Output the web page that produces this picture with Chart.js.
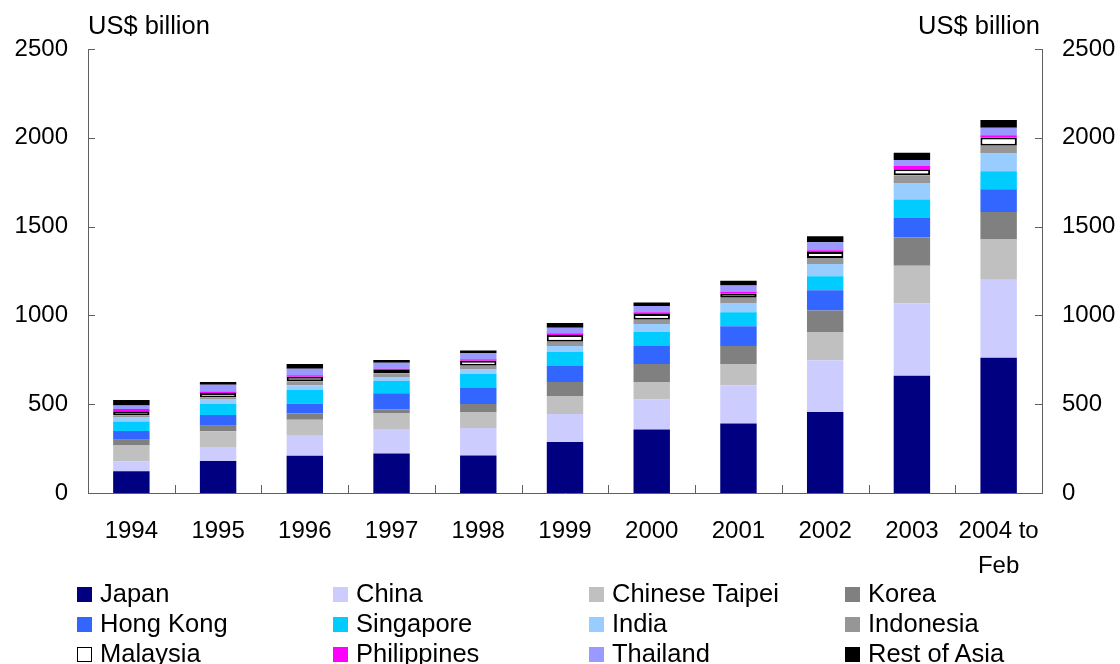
<!DOCTYPE html>
<html>
<head>
<meta charset="utf-8">
<script src="https://cdn.jsdelivr.net/npm/chart.js@4.4.1/dist/chart.umd.min.js"></script>
<style>
  body { margin: 0; background: #fff; font-family: "Liberation Sans", Arial, sans-serif; }
  #wrap { position: relative; width: 1120px; height: 664px; overflow: hidden; }
  #chart { position: absolute; left: 0; top: 0; }
  .unit { position: absolute; top: 10px; font-size: 25.5px; color: #000; line-height: 30px; }
  #legend { position: absolute; left: 0; top: 0; width: 1120px; }
  .item { position: absolute; font-size: 25.5px; line-height: 30px; white-space: nowrap; color: #000; }
  .box { position: absolute; left: 0; top: 9px; width: 15px; height: 15px; box-sizing: border-box; }
  .item span { position: absolute; left: 23px; top: 0; }
</style>
</head>
<body>
<div id="wrap">
  <canvas id="chart" width="1120" height="664"></canvas>
  <div class="unit" style="left:88px">US$ billion</div>
  <div class="unit" style="right:80px">US$ billion</div>
  <div id="legend"></div>
</div>
<script>
const years = ["1994", "1995", "1996", "1997", "1998", "1999", "2000", "2001", "2002", "2003", ["2004 to", "Feb"]];
const yTicks = [0, 500, 1000, 1500, 2000, 2500];

const japan = [122, 180, 210, 223, 211, 287, 357, 391, 456, 660, 762];
const china = [56, 79, 113, 137, 155, 158, 169, 216, 291, 408, 439];
const taipei = [90, 88, 90, 88, 90, 101, 99, 120, 159, 212, 227];
const korea = [32, 32, 35, 23, 45, 79, 101, 101, 122, 158, 154];
const hongKong = [49, 60, 55, 90, 90, 90, 101, 111, 113, 113, 128];
const singapore = [53, 64, 79, 70, 81, 81, 79, 79, 79, 101, 101];
const india = [26, 26, 24, 20, 24, 32, 45, 49, 69, 90, 101];
const indonesia = [9, 9, 23, 23, 21, 23, 25, 32, 34, 47, 43];
const malaysia = [23, 25, 25, 19, 27, 38, 32, 25, 34, 34, 47];
const philippines = [13, 9, 9, 7, 9, 10, 10, 9, 10, 20, 12];
const thailand = [19, 38, 36, 34, 35, 32, 35, 36, 45, 32, 43];
const restOfAsia = [32, 15, 28, 15, 15, 26, 19, 26, 34, 41, 43];

const SERIES = [
  { label: "Japan", data: japan, color: "#000080" },
  { label: "China", data: china, color: "#CCCCFF" },
  { label: "Chinese Taipei", data: taipei, color: "#C0C0C0" },
  { label: "Korea", data: korea, color: "#808080" },
  { label: "Hong Kong", data: hongKong, color: "#3366FF" },
  { label: "Singapore", data: singapore, color: "#00CCFF" },
  { label: "India", data: india, color: "#99CCFF" },
  { label: "Indonesia", data: indonesia, color: "#969696" },
  { label: "Malaysia", data: malaysia, color: "#FFFFFF", border: "#000000" },
  { label: "Philippines", data: philippines, color: "#FF00FF" },
  { label: "Thailand", data: thailand, color: "#9999FF" },
  { label: "Rest of Asia", data: restOfAsia, color: "#000000" }
];

const FONT = { family: "'Liberation Sans', Arial, sans-serif", size: 24 };
const AXIS = "#606060";

// small inward tick marks like the original
const innerTicks = {
  id: "innerTicks",
  afterDraw(chart) {
    const { ctx, chartArea: a, scales } = chart;
    ctx.save();
    ctx.strokeStyle = AXIS;
    ctx.lineWidth = 1;
    ctx.beginPath();
    yTicks.forEach((v) => {
      const y = Math.round(scales.y.getPixelForValue(v)) + 0.5;
      ctx.moveTo(a.left, y); ctx.lineTo(a.left + 7, y);
      ctx.moveTo(a.right, y); ctx.lineTo(a.right - 7, y);
    });
    for (let i = 0; i < years.length - 1; i++) {
      const x = Math.round((scales.x.getPixelForValue(i) + scales.x.getPixelForValue(i + 1)) / 2) + 0.5;
      ctx.moveTo(x, a.bottom); ctx.lineTo(x, a.bottom - 8);
    }
    ctx.stroke();
    ctx.restore();
  }
};

const plainTicks = { color: "#000", font: FONT, padding: 20, stepSize: 500, callback: (v) => String(v) };

new Chart(document.getElementById("chart"), {
  type: "bar",
  data: {
    labels: years,
    datasets: SERIES.map((s) => ({
      label: s.label, data: s.data, backgroundColor: s.color,
      borderColor: s.border || s.color, borderWidth: s.border ? 2 : 0,
      borderSkipped: false, categoryPercentage: 1, barPercentage: 0.42
    }))
  },
  options: {
    responsive: false, animation: false, devicePixelRatio: 1,
    layout: { padding: { top: 49, left: 0, right: 0, bottom: 0 } },
    plugins: { legend: { display: false }, tooltip: { enabled: false } },
    scales: {
      x: {
        stacked: true,
        grid: { display: false, drawTicks: false },
        border: { display: true, color: AXIS, width: 1 },
        ticks: { color: "#000", font: { ...FONT, lineHeight: 1.45 }, padding: 21, maxRotation: 0, autoSkip: false },
        afterFit: (scale) => { scale.height = 171; }
      },
      y: {
        stacked: true, position: "left", min: 0, max: 2500,
        grid: { display: false, drawTicks: false },
        border: { display: true, color: AXIS, width: 1 },
        ticks: plainTicks,
        afterFit: (scale) => { scale.width = 88; }
      },
      y2: {
        position: "right", min: 0, max: 2500,
        grid: { display: false, drawTicks: false },
        border: { display: true, color: AXIS, width: 1 },
        ticks: plainTicks,
        afterFit: (scale) => { scale.width = 78; }
      }
    }
  },
  plugins: [innerTicks]
});

// legend in four columns, three rows
const legend = document.getElementById("legend");
SERIES.forEach((s, i) => {
  const item = document.createElement("div");
  item.className = "item";
  item.style.left = (77 + (i % 4) * 256) + "px";
  item.style.top = (578 + Math.floor(i / 4) * 30) + "px";
  const box = document.createElement("div");
  box.className = "box";
  box.style.background = s.color;
  if (s.border) box.style.border = "1px solid " + s.border;
  const text = document.createElement("span");
  text.textContent = s.label;
  item.append(box, text);
  legend.appendChild(item);
});
</script>
</body>
</html>
